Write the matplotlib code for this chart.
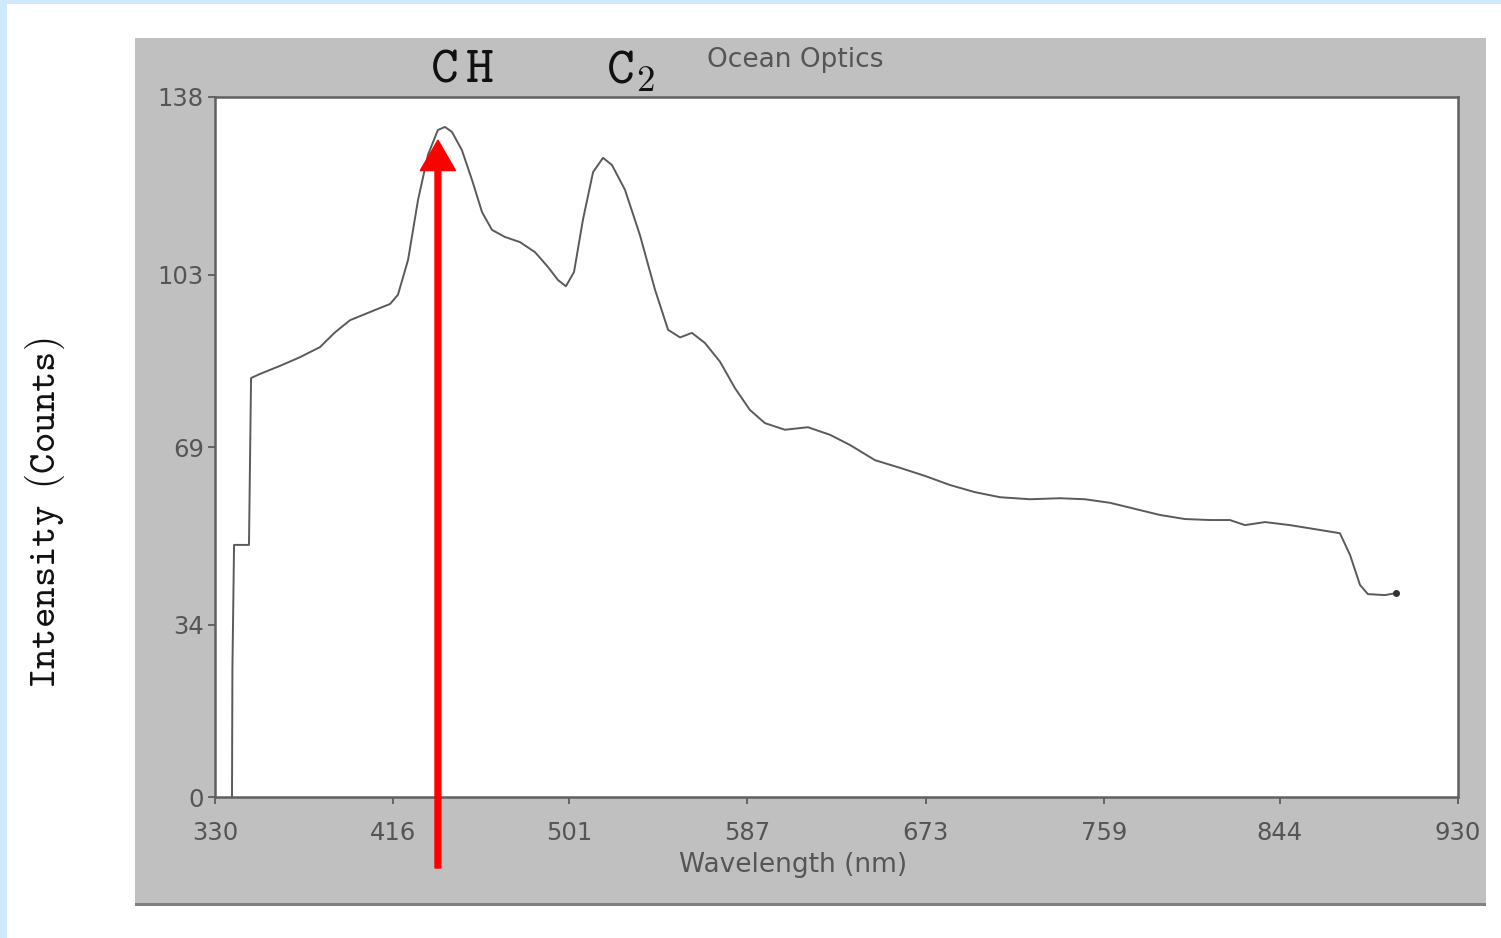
import matplotlib
matplotlib.use("Agg")
import matplotlib.pyplot as plt
from matplotlib.patches import Rectangle, FancyArrow

plt.rcParams["mathtext.fontset"] = "cm"

# ---- data ----
wavelength = [338.2, 338.4, 339.2, 345.4, 346.4, 347.4, 351.7, 361.4, 371.0, 380.7,
              387.9, 395.2, 404.8, 414.5, 418.3, 423.2, 428.0, 432.8, 437.6, 441.0,
              444.4, 449.2, 454.1, 458.9, 463.7, 470.0, 477.2, 484.5, 490.7, 495.6,
              499.4, 503.3, 507.6, 512.5, 517.3, 521.6, 527.9, 535.1, 542.4, 548.7,
              554.5, 560.2, 566.5, 573.8, 581.0, 588.2, 595.5, 605.1, 616.2, 626.9,
              636.5, 648.6, 660.6, 672.7, 684.8, 696.8, 708.9, 723.4, 737.9, 749.9,
              762.0, 774.1, 786.1, 798.2, 810.3, 819.9, 827.2, 836.8, 848.9, 861.0,
              873.0, 877.9, 882.7, 886.5, 894.7, 900.1]
intensity = [0.0, 25.0, 49.7, 49.7, 49.7, 82.6, 83.4, 85.0, 86.7, 88.7,
             91.6, 94.0, 95.6, 97.2, 99.0, 105.9, 117.7, 126.6, 131.5, 132.1,
             131.1, 127.5, 121.6, 115.3, 111.8, 110.4, 109.4, 107.4, 104.5, 101.9,
             100.7, 103.5, 113.8, 123.2, 126.0, 124.6, 119.7, 110.8, 100.0, 92.1,
             90.6, 91.5, 89.5, 85.8, 80.6, 76.3, 73.7, 72.4, 72.9, 71.4,
             69.4, 66.4, 64.9, 63.3, 61.5, 60.1, 59.1, 58.7, 58.9, 58.7,
             58.0, 56.8, 55.6, 54.8, 54.6, 54.6, 53.6, 54.2, 53.6, 52.8,
             52.0, 47.7, 41.8, 40.0, 39.8, 40.2]
x_ticks = [330, 416, 501, 587, 673, 759, 844, 930]
y_ticks = [0, 34, 69, 103, 138]
arrow_x = 437.6
arrow_y0 = -14.0
arrow_y1 = 129.5
labels = [r"$\mathtt{C\,H}$", r"$\mathtt{C}_{\mathtt{2}}$"]
label_x = [462, 630]  # pixel centres

W, H = 1501, 938
fig = plt.figure(figsize=(W / 100, H / 100), dpi=100)
fig.patch.set_facecolor("white")

def fx(px):
    return px / W

def fy(py):
    return 1 - py / H

# light blue frame
fig.add_artist(Rectangle((0, fy(4)), 1, 4 / H, transform=fig.transFigure,
                         facecolor="#cde9fb", edgecolor="none", zorder=0))
fig.add_artist(Rectangle((0, 0), 7 / W, 1, transform=fig.transFigure,
                         facecolor="#cde9fb", edgecolor="none", zorder=0))
# gray panel
fig.add_artist(Rectangle((fx(135), fy(905)), (1486 - 135) / W, (905 - 38) / H,
                         transform=fig.transFigure, facecolor="#c0c0c0",
                         edgecolor="none", zorder=0))
fig.add_artist(Rectangle((fx(135), fy(906)), (1486 - 135) / W, 3 / H,
                         transform=fig.transFigure, facecolor="#808080",
                         edgecolor="none", zorder=0))

ax = fig.add_axes([fx(215), fy(797), (1458 - 215) / W, (797 - 97) / H])
ax.set_facecolor("white")
ax.plot(wavelength, intensity, color="#5a5a5a", lw=1.4, zorder=3)
ax.plot([wavelength[-1]], [intensity[-1]], marker="o", ms=4, color="#333333", zorder=3)
ax.set_xlim(330, 930)
ax.set_ylim(0, 138)
ax.set_xticks(x_ticks)
ax.set_yticks(y_ticks)
ax.tick_params(axis="both", colors="#555555", labelcolor="#555555", labelsize=17.5,
               length=5, width=1.2, direction="out")
ax.tick_params(axis="x", pad=12)
ax.tick_params(axis="y", pad=3)
for sp in ax.spines.values():
    sp.set_color("#606060")
    sp.set_linewidth(1.8)

fig.text(fx(793), fy(865), "Wavelength (nm)", fontsize=19, ha="center", va="center",
         color="#555555")

# red arrow
ax.add_patch(FancyArrow(arrow_x, arrow_y0, 0, arrow_y1 - arrow_y0,
                        width=2.8, head_width=17, head_length=6.0,
                        length_includes_head=True, color="#ff0000",
                        clip_on=False, zorder=5))

# annotations in the gray header
fig.text(fx(label_x[0]), fy(66), labels[0], fontsize=38,
         ha="center", va="center", color="#111111")
fig.text(fx(label_x[1]), fy(68), labels[1], fontsize=38,
         ha="center", va="center", color="#111111")
fig.text(fx(795), fy(60), "Ocean Optics", fontsize=19, ha="center", va="center",
         color="#555555")
fig.text(fx(45), fy(513), r"$\mathtt{Intensity}\enspace\mathtt{(Counts)}$", fontsize=28,
         rotation=90, ha="center", va="center", color="#111111")

fig.savefig("out.png", dpi=100)
